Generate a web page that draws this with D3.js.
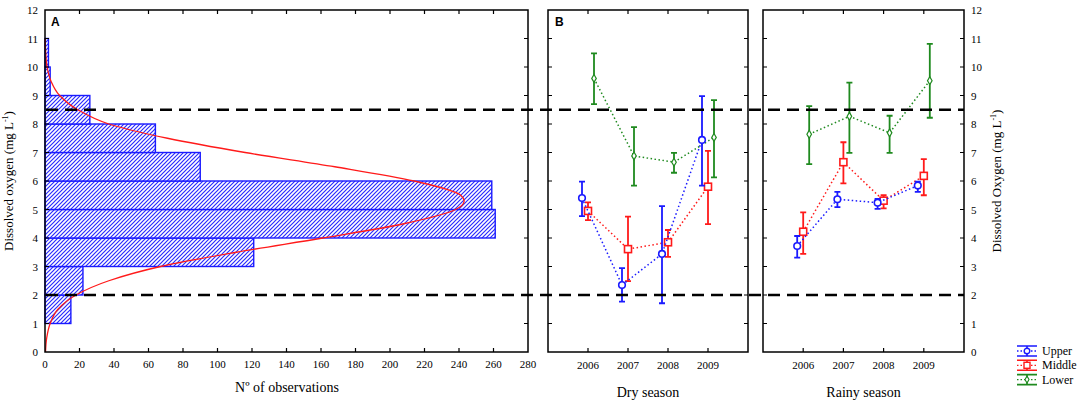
<!DOCTYPE html>
<html>
<head>
<meta charset="utf-8">
<script src="https://cdn.jsdelivr.net/npm/d3@7"></script>
<style>
  body { margin: 0; background: #fff; }
  svg text { font-family: "Liberation Serif", "Times New Roman", serif; fill: #000; }
  .panel-tag { font-family: "Liberation Sans", Arial, sans-serif; font-weight: bold; font-size: 12px; }
</style>
</head>
<body>
<div id="chart"></div>
<script>
// histogram of dissolved oxygen (1 mg/L bins) and the fitted curve
const binStart = [0, 1, 2, 3, 4, 5, 6, 7, 8, 9, 10, 11];
const binCount = [0, 15, 22, 121, 261, 259, 90, 64, 26, 3, 2, 0];
const fitDO = [0, 0.5, 1, 1.5, 2, 2.5, 3, 3.5, 4, 4.5, 5, 5.3, 5.5, 6, 6.5, 7, 7.5, 8, 8.5, 9, 9.5, 10, 10.5, 11];
const fitCount = [0.3, 1, 3, 7.5, 18, 37, 67, 111, 161, 208, 238, 243, 241, 214, 168, 116, 71, 37, 19, 8.5, 3.5, 1.2, 0.4, 0.1];

const years = [2006, 2007, 2008, 2009];
const sites = ['Upper', 'Middle', 'Lower'];
const thresholds = [2, 8.5];

// dry season means and error bar ends
const dryUpper = [5.4, 2.35, 3.44, 7.44];
const dryUpperLow = [4.77, 1.77, 1.71, 5.84];
const dryUpperHigh = [5.98, 2.94, 5.12, 8.98];
const dryMiddle = [4.95, 3.61, 3.85, 5.8];
const dryMiddleLow = [4.63, 2.49, 3.34, 4.49];
const dryMiddleHigh = [5.25, 4.75, 4.28, 7.06];
const dryLower = [9.6, 6.88, 6.66, 7.53];
const dryLowerLow = [8.7, 5.84, 6.29, 6.13];
const dryLowerHigh = [10.48, 7.89, 6.99, 8.84];

// rainy season
const rainyUpper = [3.72, 5.36, 5.24, 5.84];
const rainyUpperLow = [3.31, 5.08, 5.02, 5.62];
const rainyUpperHigh = [4.07, 5.62, 5.37, 5.98];
const rainyMiddle = [4.22, 6.66, 5.31, 6.18];
const rainyMiddleLow = [3.44, 5.92, 5.04, 5.5];
const rainyMiddleHigh = [4.9, 7.36, 5.5, 6.77];
const rainyLower = [7.64, 8.27, 7.69, 9.52];
const rainyLowerLow = [6.59, 6.99, 6.99, 8.22];
const rainyLowerHigh = [8.63, 9.45, 8.29, 10.81];

const colors = { Upper: '#1a1aff', Middle: '#ff1a1a', Lower: '#1f8a1f' };
const offsets = { Upper: -6, Middle: 0, Lower: 6 };

const width = 1084, height = 404;
const plotTop = 10, plotBottom = 352;
const tickLen = 4;

const svg = d3.select('#chart').append('svg')
  .attr('width', width)
  .attr('height', height);

const y = d3.scaleLinear().domain([0, 12]).range([plotBottom, plotTop]);
const yTicks = d3.range(0, 13);

// hatch for the histogram bars (forward slashes, 4px period)
const defs = svg.append('defs');
const hatch = defs.append('pattern')
    .attr('id', 'hatch')
    .attr('patternUnits', 'userSpaceOnUse')
    .attr('width', 4)
    .attr('height', 4);
hatch.append('rect').attr('width', 4).attr('height', 4).attr('fill', '#fff');
hatch.append('path')
    .attr('d', 'M-1,1L1,-1M0,4L4,0M3,5L5,3')
    .attr('stroke', '#2a2aff')
    .attr('stroke-width', 1.2);

function frame(g, x0, x1) {
  g.append('rect')
    .attr('x', x0).attr('y', plotTop)
    .attr('width', x1 - x0).attr('height', plotBottom - plotTop)
    .attr('fill', 'none')
    .attr('stroke', '#000')
    .attr('stroke-width', 1.5);
}

function yInnerTicks(g, x0, x1) {
  g.selectAll(null).data(yTicks.slice(1, -1)).enter()
    .append('path')
      .attr('d', d => `M${x0},${y(d)}h${tickLen}M${x1},${y(d)}h${-tickLen}`)
      .attr('stroke', '#000')
      .attr('stroke-width', 1.2);
}

function xInnerTicks(g, xs, scale) {
  g.selectAll(null).data(xs).enter()
    .append('path')
      .attr('d', d => `M${scale(d)},${plotTop}v${tickLen}M${scale(d)},${plotBottom}v${-tickLen}`)
      .attr('stroke', '#000')
      .attr('stroke-width', 1.2);
}

function yLabels(g, xPos, anchor) {
  g.selectAll(null).data(yTicks).enter()
    .append('text')
      .attr('x', xPos)
      .attr('y', d => y(d) + 4)
      .attr('text-anchor', anchor)
      .attr('font-size', 11)
      .text(d => d);
}

function yTitle(g, xPos, main) {
  const t = g.append('text')
    .attr('transform', `translate(${xPos},${(plotTop + plotBottom) / 2}) rotate(-90)`)
    .attr('text-anchor', 'middle')
    .attr('font-size', 13);
  t.append('tspan').text(main + ' (mg L');
  t.append('tspan').attr('font-size', 8).attr('dy', -5).text('-1');
  t.append('tspan').attr('dy', 5).text(')');
}

// ---- panel A: histogram
const xA = d3.scaleLinear().domain([0, 280]).range([45, 528]);
const gA = svg.append('g');
const bins = binStart.map((s, i) => ({ lo: s, hi: s + 1, n: binCount[i] })).filter(d => d.n > 0);

gA.selectAll('rect.bar').data(bins).enter()
  .append('rect')
    .attr('class', 'bar')
    .attr('x', xA(0))
    .attr('y', d => y(d.hi))
    .attr('width', d => xA(d.n) - xA(0))
    .attr('height', d => y(d.lo) - y(d.hi))
    .attr('fill', 'url(#hatch)')
    .attr('stroke', '#1a1aff')
    .attr('stroke-width', 1.4);

const fitLine = d3.line()
  .x((d, i) => xA(fitCount[i]))
  .y(d => y(d))
  .curve(d3.curveMonotoneY);

gA.append('path')
  .attr('d', fitLine(fitDO))
  .attr('fill', 'none')
  .attr('stroke', '#ff1a1a')
  .attr('stroke-width', 1.3);

frame(gA, 45, 528);
yInnerTicks(gA, 45, 528);
const xATicks = d3.range(0, 281, 20);
xInnerTicks(gA, xATicks.slice(1, -1), xA);
yLabels(gA, 38, 'end');
gA.selectAll(null).data(xATicks).enter()
  .append('text')
    .attr('x', d => xA(d))
    .attr('y', 368)
    .attr('text-anchor', 'middle')
    .attr('font-size', 11)
    .text(d => d);
gA.append('text')
  .attr('x', 287).attr('y', 392)
  .attr('text-anchor', 'middle')
  .attr('font-size', 14)
  .text('Nº of observations');
yTitle(gA, 13, 'Dissolved oxygen');
gA.append('text').attr('class', 'panel-tag').attr('x', 51).attr('y', 26).text('A');

// ---- panels B and C: seasonal means
function seasonPanel(x0, x1, series, title, tag) {
  const x = d3.scaleLinear().domain([2005, 2010]).range([x0, x1]);
  const g = svg.append('g');

  frame(g, x0, x1);
  yInnerTicks(g, x0, x1);
  xInnerTicks(g, years, x);

  g.selectAll(null).data(years).enter()
    .append('text')
      .attr('x', d => x(d))
      .attr('y', 369)
      .attr('text-anchor', 'middle')
      .attr('font-size', 11)
      .text(d => d);
  g.append('text')
    .attr('x', (x0 + x1) / 2).attr('y', 397)
    .attr('text-anchor', 'middle')
    .attr('font-size', 14)
    .text(title);
  if (tag) g.append('text').attr('class', 'panel-tag').attr('x', x0 + 7).attr('y', 26).text(tag);

  series.forEach(s => {
    const c = colors[s.site];
    const px = (d, i) => x(years[i]) + offsets[s.site];
    const line = d3.line().x(px).y(d => y(d));
    g.append('path')
      .attr('d', line(s.mean))
      .attr('fill', 'none')
      .attr('stroke', c)
      .attr('stroke-width', 1.5)
      .attr('stroke-dasharray', '1.5,2.5');

    const bars = g.append('g').selectAll('g').data(s.mean).enter().append('g');
    bars.append('path')
      .attr('d', (d, i) => {
        const cx = px(d, i);
        const yl = y(s.low[i]), yh = y(s.high[i]);
        return `M${cx},${yl}V${yh}M${cx - 3},${yh}h6M${cx - 3},${yl}h6`;
      })
      .attr('stroke', c)
      .attr('stroke-width', 1.8)
      .attr('fill', 'none');

    if (s.site === 'Upper') {
      bars.append('circle')
        .attr('cx', px).attr('cy', d => y(d)).attr('r', 3.3)
        .attr('fill', '#fff').attr('stroke', c).attr('stroke-width', 1.6);
    } else if (s.site === 'Middle') {
      bars.append('rect')
        .attr('x', (d, i) => px(d, i) - 3.5).attr('y', d => y(d) - 3.5)
        .attr('width', 7).attr('height', 7)
        .attr('fill', '#fff').attr('stroke', c).attr('stroke-width', 1.6);
    } else {
      bars.append('path')
        .attr('d', d3.symbol(d3.symbolDiamond, 18))
        .attr('transform', (d, i) => `translate(${px(d, i)},${y(d)})`)
        .attr('fill', '#fff').attr('stroke', c).attr('stroke-width', 1.2);
    }
  });
  return g;
}

const drySeries = [
  { site: 'Lower', mean: dryLower, low: dryLowerLow, high: dryLowerHigh },
  { site: 'Middle', mean: dryMiddle, low: dryMiddleLow, high: dryMiddleHigh },
  { site: 'Upper', mean: dryUpper, low: dryUpperLow, high: dryUpperHigh }
];
const rainySeries = [
  { site: 'Lower', mean: rainyLower, low: rainyLowerLow, high: rainyLowerHigh },
  { site: 'Middle', mean: rainyMiddle, low: rainyMiddleLow, high: rainyMiddleHigh },
  { site: 'Upper', mean: rainyUpper, low: rainyUpperLow, high: rainyUpperHigh }
];

seasonPanel(548, 748, drySeries, 'Dry season', 'B');
const gC = seasonPanel(763, 964, rainySeries, 'Rainy season', null);
yLabels(gC, 971, 'start');
yTitle(gC, 1001, 'Dissolved Oxygen');

// threshold lines run across all three panels
svg.selectAll('line.thr').data(thresholds).enter()
  .append('line')
    .attr('class', 'thr')
    .attr('x1', 46).attr('x2', 964)
    .attr('y1', d => y(d)).attr('y2', d => y(d))
    .attr('stroke', '#000')
    .attr('stroke-width', 2.5)
    .attr('stroke-dasharray', '12,7');

// legend
const legend = svg.append('g').attr('transform', 'translate(1017,351)');
sites.forEach((site, i) => {
  const c = colors[site];
  const row = legend.append('g').attr('transform', `translate(0,${i * 14.3})`);
  row.append('path')
    .attr('d', 'M0,-5h20M0,5h20M10,-5v10')
    .attr('stroke', c).attr('stroke-width', 1.6);
  row.append('path')
    .attr('d', 'M0,0h20')
    .attr('stroke', c).attr('stroke-width', 1.3).attr('stroke-dasharray', '1.5,2');
  if (site === 'Upper') {
    row.append('circle').attr('cx', 10).attr('cy', 0).attr('r', 2.8)
      .attr('fill', '#fff').attr('stroke', c).attr('stroke-width', 1.4);
  } else if (site === 'Middle') {
    row.append('rect').attr('x', 7).attr('y', -3).attr('width', 6).attr('height', 6)
      .attr('fill', '#fff').attr('stroke', c).attr('stroke-width', 1.4);
  } else {
    row.append('path').attr('d', d3.symbol(d3.symbolDiamond, 14)).attr('transform', 'translate(10,0)')
      .attr('fill', '#fff').attr('stroke', c).attr('stroke-width', 1.1);
  }
  row.append('text')
    .attr('x', 25).attr('y', 4)
    .attr('font-size', 12)
    .text(site);
});
</script>
</body>
</html>
